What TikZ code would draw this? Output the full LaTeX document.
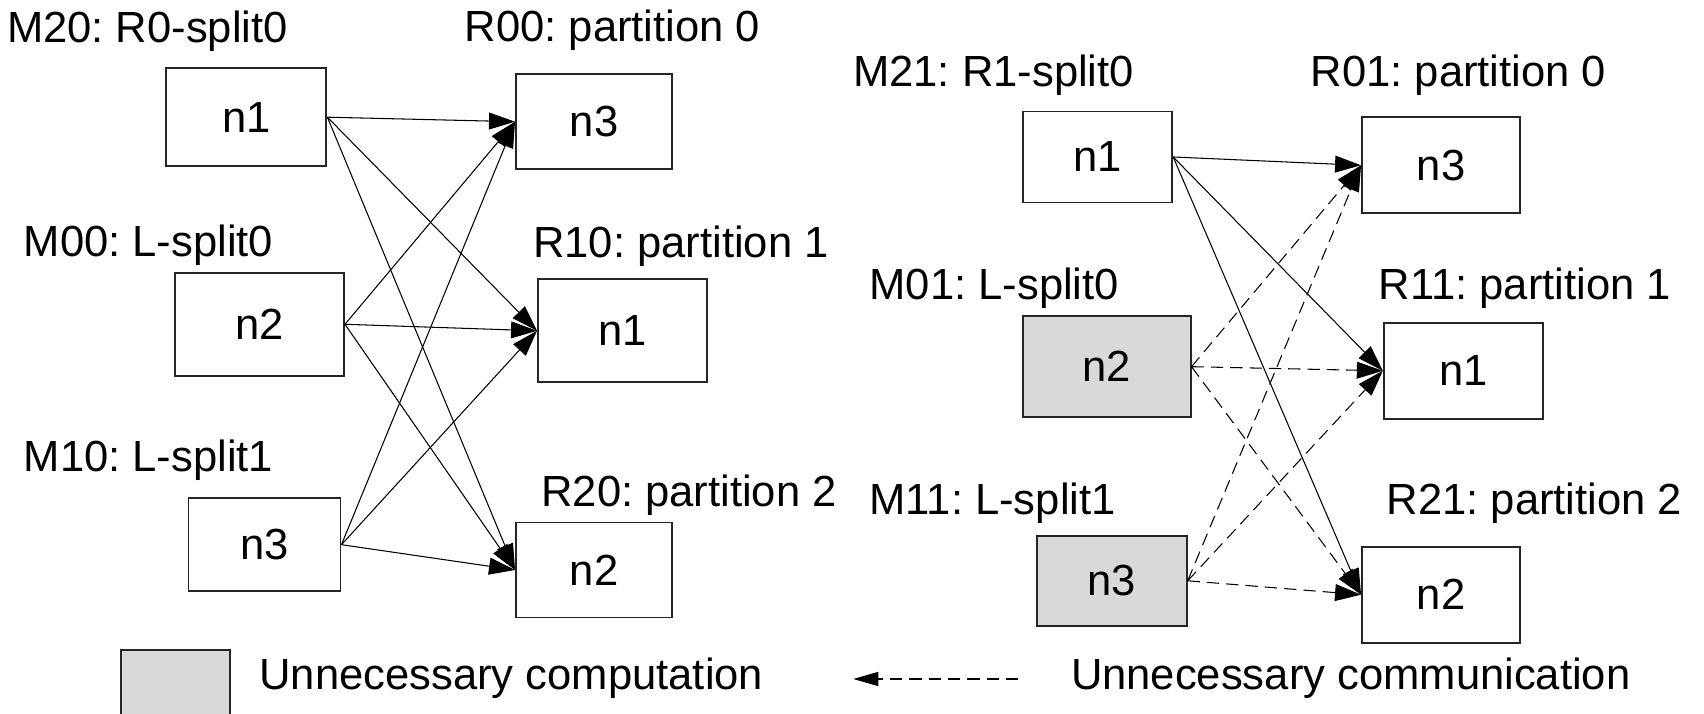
\documentclass[tikz,border=0pt]{standalone}
\usepackage{fontspec}
\setmainfont{Liberation Sans}
\usepackage{tikz}
\usetikzlibrary{arrows.meta,positioning}
\frenchspacing

\tikzset{
	task/.style = {draw = black!85, line width = 0.55pt, inner sep = 0pt},
	idle/.style = {task, fill = black!15},
	lbl/.style = {anchor = base west, inner sep = 0pt},
	link/.style = {line width = 0.3pt, -{Triangle[length = 7.4pt, width = 4.8pt]}},
	extra/.style = {link, dash pattern = on 3.5pt off 2pt},
}

\begin{document}
\begin{tikzpicture}[
					every node/.style = {font = \fontsize{12.4}{15}\selectfont},
					]

					\useasboundingbox (0,0) rectangle (17.04,7.14);

					% first job: every map output goes to every reducer
					\node[task, minimum width = 1.60cm, minimum height = 0.98cm] (m20) at (2.464,5.968) {n1};
					\node[task, minimum width = 1.69cm, minimum height = 1.03cm] (m00) at (2.595,3.897) {n2};
					\node[task, minimum width = 1.52cm, minimum height = 0.93cm] (m10) at (2.645,1.693) {n3};

					\node[task, minimum width = 1.56cm, minimum height = 0.95cm] (r00) at (5.94,5.923) {n3};
					\node[task, minimum width = 1.69cm, minimum height = 1.03cm] (r10) at (6.225,3.832) {n1};
					\node[task, minimum width = 1.56cm, minimum height = 0.95cm] (r20) at (5.94,1.44) {n2};

					\node[lbl] (lm20) at (0.063,6.717) {M20: R0-split0};
					\node[lbl] (lm00) at (0.23,4.573) {M00: L-split0};
					\node[lbl] (lm10) at (0.23,2.423) {M10: L-split1};
					\node[lbl] (lr00) at (4.64,6.72) {R00: partition 0};
					\node[lbl] (lr10) at (5.325,4.56) {R10: partition 1};
					\node[lbl] (lr20) at (5.406,2.073) {R20: partition 2};

					\foreach \s in {m20,m00,m10}
						\foreach \t in {r00,r10,r20}
							\draw[link] (\s.east) -- (\t.west);

					% second job: the L splits are mapped again
					\node[task, minimum width = 1.49cm, minimum height = 0.91cm] (m21) at (10.977,5.57) {n1};
					\node[idle, minimum width = 1.675cm, minimum height = 1.01cm] (m01) at (11.068,3.473) {n2};
					\node[idle, minimum width = 1.50cm, minimum height = 0.90cm] (m11) at (11.117,1.332) {n3};

					\node[task, minimum width = 1.58cm, minimum height = 0.96cm] (r01) at (14.41,5.487) {n3};
					\node[task, minimum width = 1.59cm, minimum height = 0.96cm] (r11) at (14.633,3.432) {n1};
					\node[task, minimum width = 1.58cm, minimum height = 0.96cm] (r21) at (14.41,1.193) {n2};

					\node[lbl] (lm21) at (8.524,6.273) {M21: R1-split0};
					\node[lbl] (lm01) at (8.688,4.14) {M01: L-split0};
					\node[lbl] (lm11) at (8.688,1.99) {M11: L-split1};
					\node[lbl] (lr01) at (13.10,6.273) {R01: partition 0};
					\node[lbl] (lr11) at (13.78,4.14) {R11: partition 1};
					\node[lbl] (lr21) at (13.86,1.99) {R21: partition 2};

					\foreach \t in {r01,r11,r21}
						\draw[link] (m21.east) -- (\t.west);
					\foreach \s in {m01,m11}
						\foreach \t in {r01,r11,r21}
							\draw[extra] (\s.east) -- (\t.west);

					% legend
					\node[idle, minimum width = 1.09cm, minimum height = 0.84cm] (keybox) at (1.755,0.22) {};
					\node[lbl] (keycomp) at (2.587,0.24) {Unnecessary computation};

					\coordinate (keyfrom) at (10.183,0.35);
					\coordinate (keyto) at (8.533,0.35);
					\draw[extra, -{Triangle[length = 7.1pt, width = 4pt]}] (keyfrom) -- (keyto);
					\node[lbl] (keycomm) at (10.703,0.24) {Unnecessary communication};

				\end{tikzpicture}
\end{document}
